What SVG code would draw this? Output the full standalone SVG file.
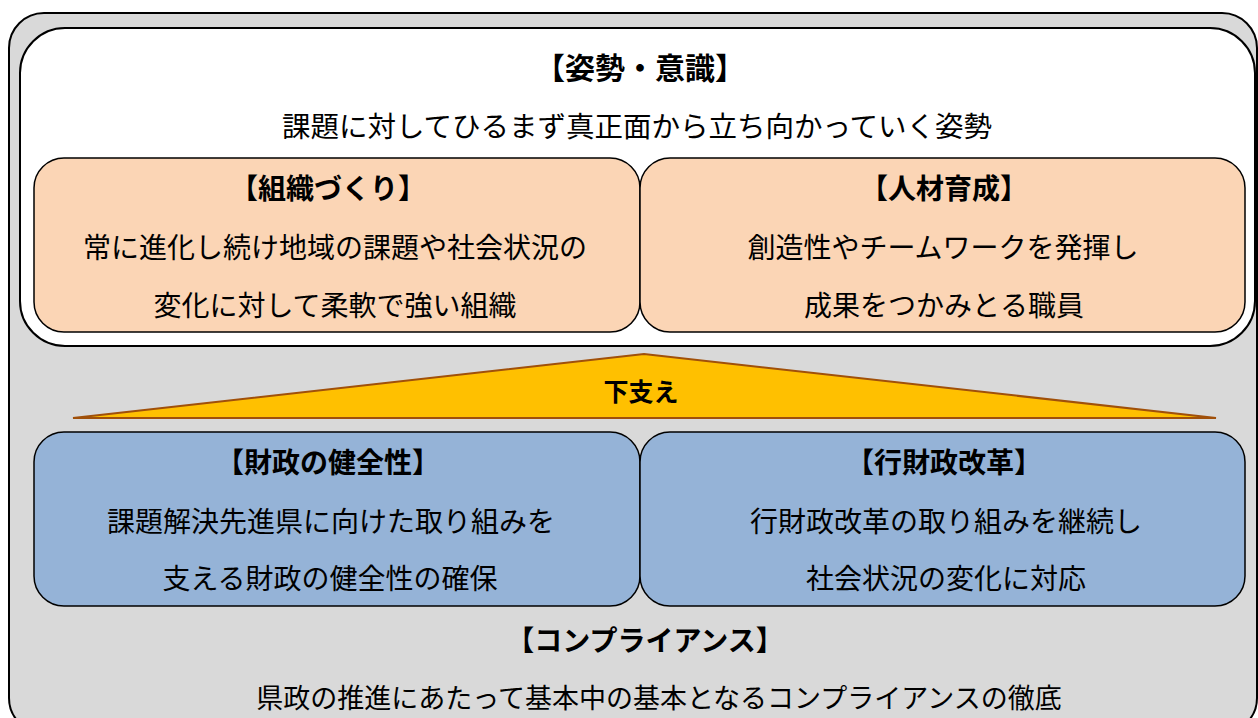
<svg xmlns="http://www.w3.org/2000/svg" width="1258" height="718" viewBox="0 0 1258 718">
<style>
text{font-family:"Noto Sans CJK JP","Noto Sans",sans-serif;fill:#000;text-anchor:middle}
.t{font-size:28px;font-weight:bold}
.b{font-size:28px;font-weight:normal}
.s{font-size:25px;font-weight:bold}
.box{stroke:#000;stroke-width:1.5}
.org{fill:#FBD5B5}
.blu{fill:#95B3D7}
</style>
<g id="outer">
<rect x="9" y="13" width="1248" height="720" rx="35" fill="#D9D9D9" stroke="#000" stroke-width="2"/>
</g>
<g id="attitude">
<rect x="20" y="28" width="1235" height="318" rx="45" fill="#FFFFFF" stroke="#000" stroke-width="2"/>
<text class="t" x="640" y="79" style="font-size:30px">【姿勢・意識】</text>
<text class="b" x="637" y="137" style="font-size:28.5px">課題に対してひるまず真正面から立ち向かっていく姿勢</text>
</g>
<g id="org-building">
<rect class="box org" x="34" y="158" width="606" height="174" rx="30"/>
<text class="t" x="328" y="199">【組織づくり】</text>
<text class="b" x="335" y="258">常に進化し続け地域の課題や社会状況の</text>
<text class="b" x="335" y="316">変化に対して柔軟で強い組織</text>
</g>
<g id="hr-development">
<rect class="box org" x="640" y="158" width="605" height="174" rx="30"/>
<text class="t" x="944" y="199">【人材育成】</text>
<text class="b" x="943" y="258">創造性やチームワークを発揮し</text>
<text class="b" x="944" y="316">成果をつかみとる職員</text>
</g>
<g id="support">
<polygon points="73,418 644,354 1216,418" fill="#FFC000" stroke="#A0500A" stroke-width="2"/>
<text class="s" x="641" y="401">下支え</text>
</g>
<g id="fiscal-health">
<rect class="box blu" x="34" y="432" width="606" height="174" rx="30"/>
<text class="t" x="328" y="473">【財政の健全性】</text>
<text class="b" x="331" y="532">課題解決先進県に向けた取り組みを</text>
<text class="b" x="330" y="589">支える財政の健全性の確保</text>
</g>
<g id="admin-reform">
<rect class="box blu" x="640" y="432" width="605" height="174" rx="30"/>
<text class="t" x="944" y="473">【行財政改革】</text>
<text class="b" x="946" y="532">行財政改革の取り組みを継続し</text>
<text class="b" x="946" y="589">社会状況の変化に対応</text>
</g>
<g id="compliance">
<text class="t" x="645" y="651">【コンプライアンス】</text>
<text class="b" x="659" y="708" style="font-size:27px">県政の推進にあたって基本中の基本となるコンプライアンスの徹底</text>
</g>
<g id="connectors"/>
</svg>
